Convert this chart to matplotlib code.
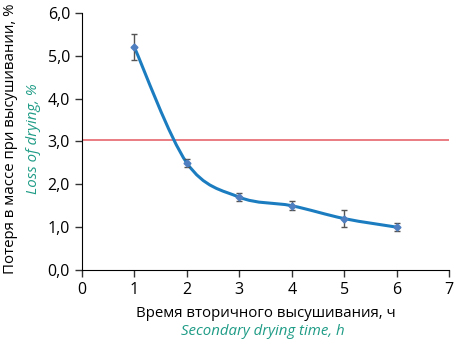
import matplotlib
matplotlib.use('Agg')
import matplotlib.pyplot as plt
from matplotlib.path import Path
from matplotlib.patches import PathPatch

# Data
hours = [1, 2, 3, 4, 5, 6]
loss = [5.2, 2.5, 1.7, 1.5, 1.2, 1.0]
err = [0.3, 0.1, 0.1, 0.1, 0.2, 0.1]
limit = 3.03
x_ticks = [0, 1, 2, 3, 4, 5, 6, 7]
y_ticks = [0, 1, 2, 3, 4, 5, 6]

plt.rcParams['font.family'] = ['Open Sans', 'DejaVu Sans']

fig = plt.figure(figsize=(4.55, 3.47), dpi=100)
ax = fig.add_axes([0.180, 0.222, 0.807, 0.7405])

# smoothed line (Catmull-Rom as cubic Bezier segments)
pts = list(zip(hours, loss))
verts = [pts[0]]
codes = [Path.MOVETO]
for i in range(len(pts) - 1):
    p0 = pts[i - 1] if i > 0 else pts[i]
    p1 = pts[i]
    p2 = pts[i + 1]
    p3 = pts[i + 2] if i + 2 < len(pts) else pts[i + 1]
    c1 = (p1[0] + (p2[0] - p0[0]) / 6, p1[1] + (p2[1] - p0[1]) / 6)
    c2 = (p2[0] - (p3[0] - p1[0]) / 6, p2[1] - (p3[1] - p1[1]) / 6)
    verts += [c1, c2, p2]
    codes += [Path.CURVE4] * 3
ax.add_patch(PathPatch(Path(verts, codes), facecolor='none',
                       edgecolor='#1b7dc0', lw=2.2, zorder=3))

ax.axhline(limit, color='#e8666e', lw=1.2, zorder=2)

ax.errorbar(hours, loss, yerr=err, fmt='D', ms=3.5, color='#4f7fc0',
            ecolor='#555555', elinewidth=1, capsize=2.5, capthick=1, zorder=4)

ax.set_xlim(0, 7)
ax.set_ylim(0, 6)
ax.set_xticks(x_ticks)
ax.set_yticks(y_ticks)
ax.set_yticklabels([f'{v},0' for v in y_ticks])
ax.spines['top'].set_visible(False)
ax.spines['right'].set_visible(False)
ax.tick_params(direction='out', length=5, width=1, labelsize=11.5, color='#333333')
ax.tick_params(axis='x', pad=4)

fig.text(0.022, 0.60, 'Потеря в массе при высушивании, %', rotation=90,
         ha='center', va='center', fontsize=10.8)
fig.text(0.073, 0.60, 'Loss of drying, %', rotation=90, ha='center',
         va='center', fontsize=10.8, style='italic', color='#1f9c86')
fig.text(0.585, 0.097, 'Время вторичного высушивания, ч', ha='center',
         va='center', fontsize=10.8)
fig.text(0.578, 0.045, 'Secondary drying time, h', ha='center',
         va='center', fontsize=10.8, style='italic', color='#1f9c86')

fig.savefig('out.png', dpi=100)
